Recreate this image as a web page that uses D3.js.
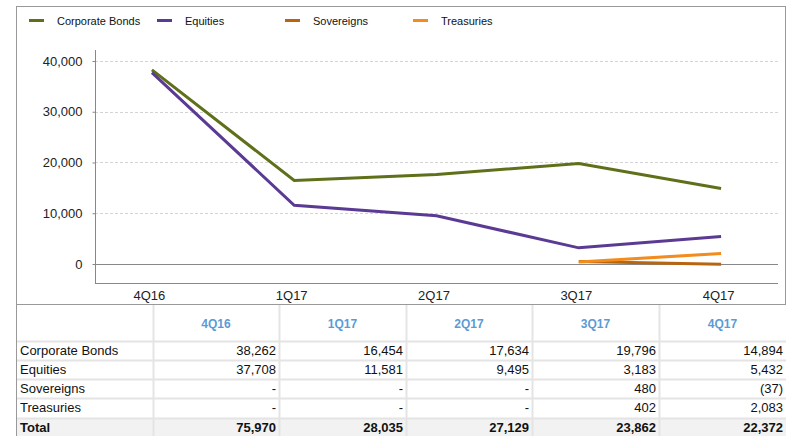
<!DOCTYPE html>
<meta charset="utf-8">
<style>
body { margin: 0; background: #fff; }
svg { font-family: "Liberation Sans", Arial, sans-serif; }
.grid line { stroke: #d4d4d4; stroke-dasharray: 3,2; }
.axis path, .axis line { stroke: #888; }
.axis text { fill: #222; font-size: 13px; }
.legend text { font-size: 11px; fill: #111; }
.tbl text { font-size: 13px; fill: #111; }
.tbl .head { fill: #5b9bd5; font-weight: bold; font-size: 12px; }
.tbl .total { font-weight: bold; }
</style>
<svg width="791" height="436"></svg>
<script src="https://cdn.jsdelivr.net/npm/d3@7"></script>
<script>

var quarters = ["4Q16", "1Q17", "2Q17", "3Q17", "4Q17"];
var seriesNames = ["Corporate Bonds", "Equities", "Sovereigns", "Treasuries"];
var corporateBonds = [38262, 16454, 17634, 19796, 14894];
var equities = [37708, 11581, 9495, 3183, 5432];
var sovereigns = [null, null, null, 480, -37];
var treasuries = [null, null, null, 402, 2083];
var totals = [75970, 28035, 27129, 23862, 22372];
var yTicks = [0, 10000, 20000, 30000, 40000];

var colors = ["#5e7019", "#5b3a94", "#b8650f", "#f28c1c"];
var series = [corporateBonds, equities, sovereigns, treasuries];

var svg = d3.select("svg");

// frame
svg.append("line").attr("x1", 16.5).attr("x2", 16.5).attr("y1", 6).attr("y2", 436).attr("stroke", "#999");
svg.append("line").attr("x1", 16).attr("x2", 786).attr("y1", 6.5).attr("y2", 6.5).attr("stroke", "#999");
svg.append("line").attr("x1", 785.5).attr("x2", 785.5).attr("y1", 6).attr("y2", 305).attr("stroke", "#999");
svg.append("line").attr("x1", 16).attr("x2", 786).attr("y1", 304.5).attr("y2", 304.5).attr("stroke", "#999");

// legend
var legendX = [29, 157, 285, 413];
var legend = svg.append("g").attr("class", "legend");
seriesNames.forEach(function(name, i) {
  legend.append("line")
    .attr("x1", legendX[i]).attr("x2", legendX[i] + 15)
    .attr("y1", 20.5).attr("y2", 20.5)
    .attr("stroke", colors[i]).attr("stroke-width", 3);
  legend.append("text")
    .attr("x", legendX[i] + 28).attr("y", 24.5)
    .text(name);
});

// chart
var plotLeft = 95, plotRight = 778, plotTop = 50, plotBottom = 283;

var x = d3.scalePoint().domain(quarters).range([plotLeft, plotRight]).padding(0.4);
var y = d3.scaleLinear().domain([-3744, 42167]).range([plotBottom, plotTop]);

svg.append("g").attr("class", "grid")
  .selectAll("line").data(yTicks.filter(function(d) { return d > 0; }))
  .enter().append("line")
    .attr("x1", plotLeft).attr("x2", plotRight)
    .attr("y1", function(d) { return Math.round(y(d)) + 0.5; })
    .attr("y2", function(d) { return Math.round(y(d)) + 0.5; });

svg.append("line")
  .attr("x1", plotLeft).attr("x2", plotRight)
  .attr("y1", Math.round(y(0)) + 0.5).attr("y2", Math.round(y(0)) + 0.5)
  .attr("stroke", "#888");

var yAxis = svg.append("g").attr("class", "axis")
  .attr("transform", "translate(" + (plotLeft + 0.5) + ",0)")
  .call(d3.axisLeft(y).tickValues(yTicks).tickSize(3).tickSizeOuter(0).tickFormat(d3.format(",")));
yAxis.select(".domain").attr("d", "M0," + plotTop + "V" + plotBottom);
yAxis.selectAll("text").attr("dx", "-7");

var xAxis = svg.append("g").attr("class", "axis")
  .attr("transform", "translate(0," + (plotBottom + 0.5) + ")")
  .call(d3.axisBottom(x).tickSize(0).tickSizeOuter(0));
xAxis.select(".domain").attr("d", "M" + plotLeft + ",0H" + plotRight);
xAxis.selectAll("text").attr("dy", "1.05em").attr("dx", "-3");

var line = d3.line()
  .defined(function(d) { return d != null; })
  .x(function(d, i) { return x(quarters[i]); })
  .y(function(d) { return y(d); });

series.forEach(function(values, i) {
  svg.append("path")
    .datum(values)
    .attr("fill", "none")
    .attr("stroke", colors[i])
    .attr("stroke-width", 3)
    .attr("d", line);
});

// table
var fmt = function(v) {
  if (v == null) return "-";
  if (v < 0) return "(" + d3.format(",")(-v) + ")";
  return d3.format(",")(v);
};
var colEdges = [16, 153, 279, 406, 532, 659, 786];
var rowEdges = [305, 341, 360, 379, 398, 418, 436];
var tbl = svg.append("g").attr("class", "tbl");

tbl.append("rect")
  .attr("x", 17).attr("y", rowEdges[5]).attr("width", 769).attr("height", rowEdges[6] - rowEdges[5])
  .attr("fill", "#f2f2f2");

tbl.selectAll("line.h").data(rowEdges.slice(1, 6)).enter().append("line")
  .attr("x1", 17).attr("x2", 786)
  .attr("y1", function(d) { return d + 0.5; }).attr("y2", function(d) { return d + 0.5; })
  .attr("stroke", "#e4e4e4").attr("stroke-width", 2);

tbl.selectAll("line.v").data(colEdges.slice(1, 6)).enter().append("line")
  .attr("x1", function(d) { return d + 0.5; }).attr("x2", function(d) { return d + 0.5; })
  .attr("y1", 305).attr("y2", 436)
  .attr("stroke", "#e4e4e4").attr("stroke-width", 2);

quarters.forEach(function(q, j) {
  tbl.append("text").attr("class", "head")
    .attr("x", (colEdges[j + 1] + colEdges[j + 2]) / 2)
    .attr("y", 328).attr("text-anchor", "middle")
    .text(q);
});

var rows = seriesNames.map(function(n, i) { return { name: n, values: series[i] }; });
rows.push({ name: "Total", values: totals, total: true });

rows.forEach(function(r, i) {
  var ty = rowEdges[i + 1] + 14;
  tbl.append("text").attr("class", r.total ? "total" : null)
    .attr("x", 20).attr("y", ty).text(r.name);
  r.values.forEach(function(v, j) {
    tbl.append("text").attr("class", r.total ? "total" : null)
      .attr("x", colEdges[j + 2] - 3).attr("y", ty)
      .attr("text-anchor", "end")
      .text(fmt(v));
  });
});

</script>
